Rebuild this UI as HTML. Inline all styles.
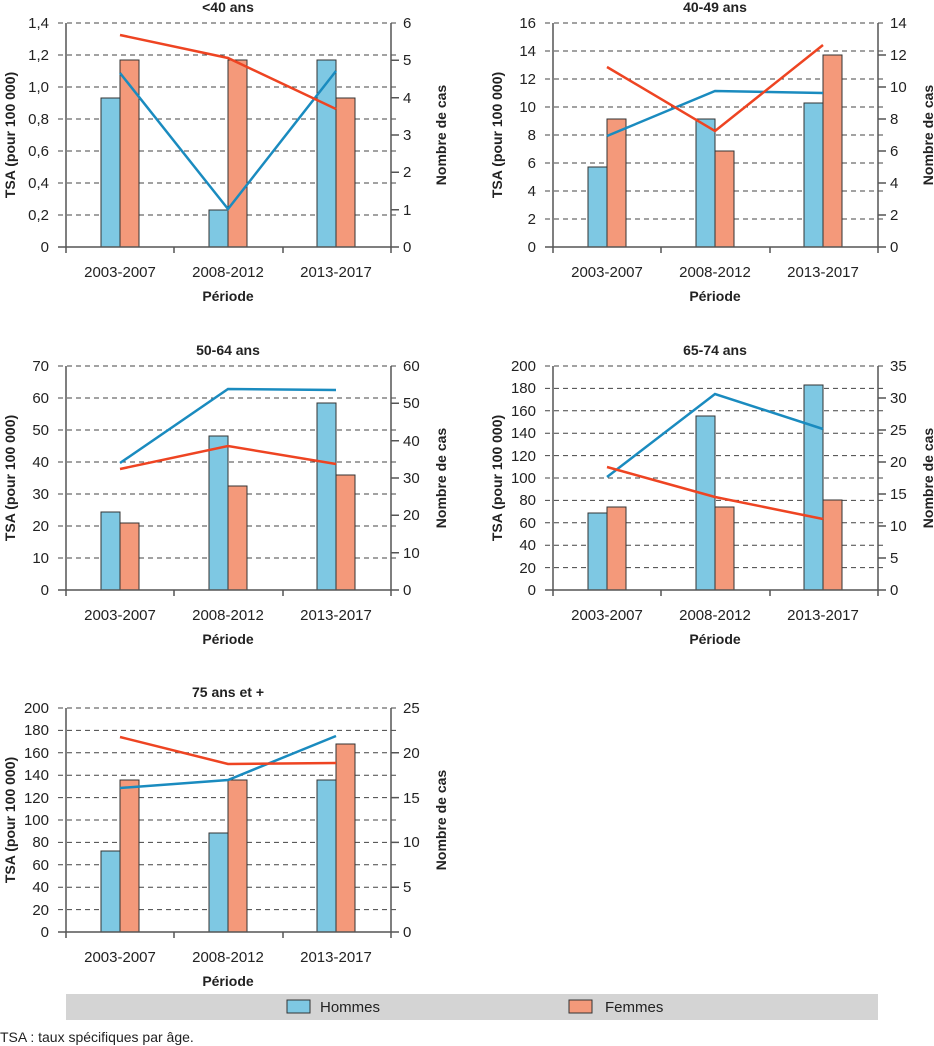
<!DOCTYPE html>
<html><head><meta charset="utf-8"><style>
html,body{margin:0;padding:0;background:#fff}
svg{display:block;font-family:"Liberation Sans",Arial,sans-serif}
.t{font-size:15px;fill:#222}
.b{font-size:14px;font-weight:bold;fill:#222}
.g{stroke:#444;stroke-width:1;stroke-dasharray:5,4}
.ax{stroke:#555;stroke-width:1.5;fill:none}
.hb{fill:#7ec8e3;stroke:#333;stroke-width:1}
.fb{fill:#f4997a;stroke:#333;stroke-width:1}
.hl{stroke:#1a8bbf;stroke-width:2.5;fill:none}
.fl{stroke:#ee4422;stroke-width:2.5;fill:none}
</style></head><body>
<svg width="934" height="1046" viewBox="0 0 934 1046" xmlns="http://www.w3.org/2000/svg">

<!-- Chart 1 -->
<g transform="translate(66,23)">
<line class="g" x1="-8" x2="333" y1="0" y2="0"/><line class="g" x1="-8" x2="333" y1="32" y2="32"/><line class="g" x1="-8" x2="333" y1="64" y2="64"/><line class="g" x1="-8" x2="333" y1="96" y2="96"/><line class="g" x1="-8" x2="333" y1="128" y2="128"/><line class="g" x1="-8" x2="333" y1="160" y2="160"/><line class="g" x1="-8" x2="333" y1="192" y2="192"/>
<rect class="hb" x="35" y="75" width="19" height="149"/><rect class="fb" x="54" y="37" width="19" height="187"/>
<rect class="hb" x="143" y="187" width="19" height="37"/><rect class="fb" x="162" y="37" width="19" height="187"/>
<rect class="hb" x="251" y="37" width="19" height="187"/><rect class="fb" x="270" y="75" width="19" height="149"/>
<path class="ax" d="M0,0V224M325,0V224M-8,224H333M0,224v6M108,224v6M217,224v6M325,224v6M325,37.3h8M325,74.7h8M325,112h8M325,149.3h8M325,186.7h8"/>
<polyline class="hl" points="54,50 162,186 270,48"/><polyline class="fl" points="54,12 162,35 270,86"/>
<g class="t" text-anchor="end"><text x="-17" y="5">1,4</text><text x="-17" y="37">1,2</text><text x="-17" y="69">1,0</text><text x="-17" y="101">0,8</text><text x="-17" y="133">0,6</text><text x="-17" y="165">0,4</text><text x="-17" y="197">0,2</text><text x="-17" y="229">0</text></g>
<g class="t"><text x="337" y="5">6</text><text x="337" y="42">5</text><text x="337" y="80">4</text><text x="337" y="117">3</text><text x="337" y="154">2</text><text x="337" y="192">1</text><text x="337" y="229">0</text></g>
<g class="t" text-anchor="middle"><text x="54" y="254">2003-2007</text><text x="162" y="254">2008-2012</text><text x="270" y="254">2013-2017</text></g>
<text class="b" x="162" y="278" text-anchor="middle">Période</text>
<text class="b" x="162" y="-11" text-anchor="middle">&lt;40 ans</text>
<text class="b" transform="translate(-51,112) rotate(-90)" text-anchor="middle">TSA (pour 100 000)</text>
<text class="b" transform="translate(380,112) rotate(-90)" text-anchor="middle">Nombre de cas</text>
</g>

<!-- Chart 2 -->
<g transform="translate(553,23)">
<line class="g" x1="-8" x2="333" y1="0" y2="0"/><line class="g" x1="-8" x2="333" y1="28" y2="28"/><line class="g" x1="-8" x2="333" y1="56" y2="56"/><line class="g" x1="-8" x2="333" y1="84" y2="84"/><line class="g" x1="-8" x2="333" y1="112" y2="112"/><line class="g" x1="-8" x2="333" y1="140" y2="140"/><line class="g" x1="-8" x2="333" y1="168" y2="168"/><line class="g" x1="-8" x2="333" y1="196" y2="196"/>
<rect class="hb" x="35" y="144" width="19" height="80"/><rect class="fb" x="54" y="96" width="19" height="128"/>
<rect class="hb" x="143" y="96" width="19" height="128"/><rect class="fb" x="162" y="128" width="19" height="96"/>
<rect class="hb" x="251" y="80" width="19" height="144"/><rect class="fb" x="270" y="32" width="19" height="192"/>
<path class="ax" d="M0,0V224M325,0V224M-8,224H333M0,224v6M108,224v6M217,224v6M325,224v6M325,32h8M325,64h8M325,96h8M325,128h8M325,160h8M325,192h8"/>
<polyline class="hl" points="54,113 162,68 270,70"/><polyline class="fl" points="54,44 162,108 270,22"/>
<g class="t" text-anchor="end"><text x="-17" y="5">16</text><text x="-17" y="33">14</text><text x="-17" y="61">12</text><text x="-17" y="89">10</text><text x="-17" y="117">8</text><text x="-17" y="145">6</text><text x="-17" y="173">4</text><text x="-17" y="201">2</text><text x="-17" y="229">0</text></g>
<g class="t"><text x="337" y="5">14</text><text x="337" y="37">12</text><text x="337" y="69">10</text><text x="337" y="101">8</text><text x="337" y="133">6</text><text x="337" y="165">4</text><text x="337" y="197">2</text><text x="337" y="229">0</text></g>
<g class="t" text-anchor="middle"><text x="54" y="254">2003-2007</text><text x="162" y="254">2008-2012</text><text x="270" y="254">2013-2017</text></g>
<text class="b" x="162" y="278" text-anchor="middle">Période</text>
<text class="b" x="162" y="-11" text-anchor="middle">40-49 ans</text>
<text class="b" transform="translate(-51,112) rotate(-90)" text-anchor="middle">TSA (pour 100 000)</text>
<text class="b" transform="translate(380,112) rotate(-90)" text-anchor="middle">Nombre de cas</text>
</g>

<!-- Chart 3 -->
<g transform="translate(66,366)">
<line class="g" x1="-8" x2="333" y1="0" y2="0"/><line class="g" x1="-8" x2="333" y1="32" y2="32"/><line class="g" x1="-8" x2="333" y1="64" y2="64"/><line class="g" x1="-8" x2="333" y1="96" y2="96"/><line class="g" x1="-8" x2="333" y1="128" y2="128"/><line class="g" x1="-8" x2="333" y1="160" y2="160"/><line class="g" x1="-8" x2="333" y1="192" y2="192"/>
<rect class="hb" x="35" y="146" width="19" height="78"/><rect class="fb" x="54" y="157" width="19" height="67"/>
<rect class="hb" x="143" y="70" width="19" height="154"/><rect class="fb" x="162" y="120" width="19" height="104"/>
<rect class="hb" x="251" y="37" width="19" height="187"/><rect class="fb" x="270" y="109" width="19" height="115"/>
<path class="ax" d="M0,0V224M325,0V224M-8,224H333M0,224v6M108,224v6M217,224v6M325,224v6M325,37.3h8M325,74.7h8M325,112h8M325,149.3h8M325,186.7h8"/>
<polyline class="hl" points="54,97 162,23 270,24"/><polyline class="fl" points="54,103 162,80 270,98"/>
<g class="t" text-anchor="end"><text x="-17" y="5">70</text><text x="-17" y="37">60</text><text x="-17" y="69">50</text><text x="-17" y="101">40</text><text x="-17" y="133">30</text><text x="-17" y="165">20</text><text x="-17" y="197">10</text><text x="-17" y="229">0</text></g>
<g class="t"><text x="337" y="5">60</text><text x="337" y="42">50</text><text x="337" y="80">40</text><text x="337" y="117">30</text><text x="337" y="154">20</text><text x="337" y="192">10</text><text x="337" y="229">0</text></g>
<g class="t" text-anchor="middle"><text x="54" y="254">2003-2007</text><text x="162" y="254">2008-2012</text><text x="270" y="254">2013-2017</text></g>
<text class="b" x="162" y="278" text-anchor="middle">Période</text>
<text class="b" x="162" y="-11" text-anchor="middle">50-64 ans</text>
<text class="b" transform="translate(-51,112) rotate(-90)" text-anchor="middle">TSA (pour 100 000)</text>
<text class="b" transform="translate(380,112) rotate(-90)" text-anchor="middle">Nombre de cas</text>
</g>

<!-- Chart 4 -->
<g transform="translate(553,366)">
<line class="g" x1="-8" x2="333" y1="0" y2="0"/><line class="g" x1="-8" x2="333" y1="22.4" y2="22.4"/><line class="g" x1="-8" x2="333" y1="44.8" y2="44.8"/><line class="g" x1="-8" x2="333" y1="67.2" y2="67.2"/><line class="g" x1="-8" x2="333" y1="89.6" y2="89.6"/><line class="g" x1="-8" x2="333" y1="112" y2="112"/><line class="g" x1="-8" x2="333" y1="134.4" y2="134.4"/><line class="g" x1="-8" x2="333" y1="156.8" y2="156.8"/><line class="g" x1="-8" x2="333" y1="179.2" y2="179.2"/><line class="g" x1="-8" x2="333" y1="201.6" y2="201.6"/>
<rect class="hb" x="35" y="147" width="19" height="77"/><rect class="fb" x="54" y="141" width="19" height="83"/>
<rect class="hb" x="143" y="50" width="19" height="174"/><rect class="fb" x="162" y="141" width="19" height="83"/>
<rect class="hb" x="251" y="19" width="19" height="205"/><rect class="fb" x="270" y="134" width="19" height="90"/>
<path class="ax" d="M0,0V224M325,0V224M-8,224H333M0,224v6M108,224v6M217,224v6M325,224v6M325,32h8M325,64h8M325,96h8M325,128h8M325,160h8M325,192h8"/>
<polyline class="hl" points="54,111 162,28 270,63"/><polyline class="fl" points="54,101 108,116 162,131 216,142 270,153"/>
<g class="t" text-anchor="end"><text x="-17" y="5">200</text><text x="-17" y="27">180</text><text x="-17" y="50">160</text><text x="-17" y="72">140</text><text x="-17" y="95">120</text><text x="-17" y="117">100</text><text x="-17" y="139">80</text><text x="-17" y="162">60</text><text x="-17" y="184">40</text><text x="-17" y="207">20</text><text x="-17" y="229">0</text></g>
<g class="t"><text x="337" y="5">35</text><text x="337" y="37">30</text><text x="337" y="69">25</text><text x="337" y="101">20</text><text x="337" y="133">15</text><text x="337" y="165">10</text><text x="337" y="197">5</text><text x="337" y="229">0</text></g>
<g class="t" text-anchor="middle"><text x="54" y="254">2003-2007</text><text x="162" y="254">2008-2012</text><text x="270" y="254">2013-2017</text></g>
<text class="b" x="162" y="278" text-anchor="middle">Période</text>
<text class="b" x="162" y="-11" text-anchor="middle">65-74 ans</text>
<text class="b" transform="translate(-51,112) rotate(-90)" text-anchor="middle">TSA (pour 100 000)</text>
<text class="b" transform="translate(380,112) rotate(-90)" text-anchor="middle">Nombre de cas</text>
</g>

<!-- Chart 5 -->
<g transform="translate(66,708)">
<line class="g" x1="-8" x2="333" y1="0" y2="0"/><line class="g" x1="-8" x2="333" y1="22.4" y2="22.4"/><line class="g" x1="-8" x2="333" y1="44.8" y2="44.8"/><line class="g" x1="-8" x2="333" y1="67.2" y2="67.2"/><line class="g" x1="-8" x2="333" y1="89.6" y2="89.6"/><line class="g" x1="-8" x2="333" y1="112" y2="112"/><line class="g" x1="-8" x2="333" y1="134.4" y2="134.4"/><line class="g" x1="-8" x2="333" y1="156.8" y2="156.8"/><line class="g" x1="-8" x2="333" y1="179.2" y2="179.2"/><line class="g" x1="-8" x2="333" y1="201.6" y2="201.6"/>
<rect class="hb" x="35" y="143" width="19" height="81"/><rect class="fb" x="54" y="72" width="19" height="152"/>
<rect class="hb" x="143" y="125" width="19" height="99"/><rect class="fb" x="162" y="72" width="19" height="152"/>
<rect class="hb" x="251" y="72" width="19" height="152"/><rect class="fb" x="270" y="36" width="19" height="188"/>
<path class="ax" d="M0,0V224M325,0V224M-8,224H333M0,224v6M108,224v6M217,224v6M325,224v6M325,44.8h8M325,89.6h8M325,134.4h8M325,179.2h8"/>
<polyline class="hl" points="54,80 162,72 270,28"/><polyline class="fl" points="54,29 162,56 270,55"/>
<g class="t" text-anchor="end"><text x="-17" y="5">200</text><text x="-17" y="27">180</text><text x="-17" y="50">160</text><text x="-17" y="72">140</text><text x="-17" y="95">120</text><text x="-17" y="117">100</text><text x="-17" y="139">80</text><text x="-17" y="162">60</text><text x="-17" y="184">40</text><text x="-17" y="207">20</text><text x="-17" y="229">0</text></g>
<g class="t"><text x="337" y="5">25</text><text x="337" y="50">20</text><text x="337" y="95">15</text><text x="337" y="139">10</text><text x="337" y="184">5</text><text x="337" y="229">0</text></g>
<g class="t" text-anchor="middle"><text x="54" y="254">2003-2007</text><text x="162" y="254">2008-2012</text><text x="270" y="254">2013-2017</text></g>
<text class="b" x="162" y="278" text-anchor="middle">Période</text>
<text class="b" x="162" y="-11" text-anchor="middle">75 ans et +</text>
<text class="b" transform="translate(-51,112) rotate(-90)" text-anchor="middle">TSA (pour 100 000)</text>
<text class="b" transform="translate(380,112) rotate(-90)" text-anchor="middle">Nombre de cas</text>
</g>

<!-- Legend -->
<rect x="66" y="994" width="812" height="26" fill="#d4d4d4"/>
<rect class="hb" x="287" y="1000" width="23" height="13"/>
<text class="t" x="320" y="1012">Hommes</text>
<rect class="fb" x="569" y="1000" width="23" height="13"/>
<text class="t" x="605" y="1012">Femmes</text>
<text class="t" x="0" y="1042" style="font-size:14px">TSA : taux spécifiques par âge.</text>
</svg>
</body></html>
